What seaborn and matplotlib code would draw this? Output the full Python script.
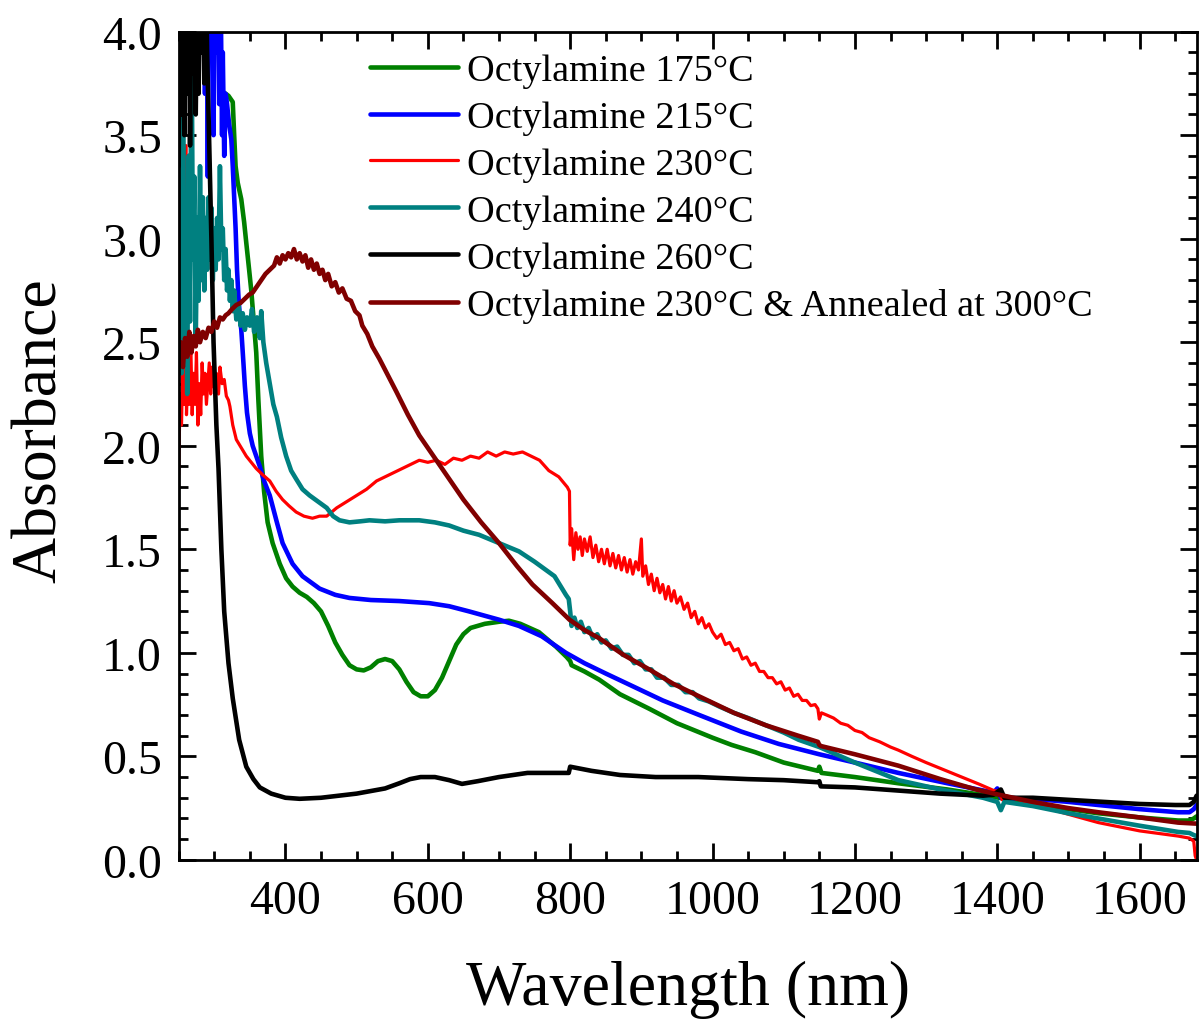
import matplotlib
matplotlib.use("Agg")
import matplotlib.pyplot as plt
from matplotlib.ticker import MultipleLocator
import seaborn as sns
import pandas as pd

# UV-Vis-NIR absorbance spectra of octylamine-synthesised samples
labels = [
    "Octylamine 175°C",
    "Octylamine 215°C",
    "Octylamine 230°C",
    "Octylamine 240°C",
    "Octylamine 260°C",
    "Octylamine 230°C & Annealed at 300°C",
]
colors = ["#008000", "#0000ff", "#ff0000", "#008080", "#000000", "#800000"]

wl_175 = [290, 305, 312, 320, 326, 328, 330, 333, 338, 342, 345, 349, 352, 356, 359, 362, 366, 370, 375, 382,
          392, 401, 410, 420, 430, 440, 450, 460, 470, 480, 490, 500, 510, 520, 530, 540, 550, 560, 570, 580,
          590, 600, 610, 620, 630, 640, 650, 660, 680, 700, 714, 730, 756, 780, 795, 800, 802, 820, 841, 870,
          911, 950, 1000, 1027, 1060, 1100, 1148, 1150, 1153, 1200, 1261, 1330, 1395, 1402, 1450, 1500, 1542,
          1600, 1654, 1670, 1676, 1680]
abs_175 = [4.3, 4.0, 3.71, 3.69, 3.66, 3.50, 3.35, 3.27, 3.19, 3.08, 2.98, 2.85, 2.75, 2.58, 2.45, 2.22, 1.95, 1.78,
           1.63, 1.53, 1.43, 1.36, 1.32, 1.29, 1.27, 1.24, 1.20, 1.13, 1.05, 0.99, 0.94, 0.92, 0.915, 0.93, 0.96,
           0.97, 0.96, 0.92, 0.86, 0.81, 0.79, 0.79, 0.82, 0.88, 0.96, 1.04, 1.09, 1.12, 1.14, 1.15, 1.155, 1.14,
           1.10, 1.03, 0.98, 0.96, 0.94, 0.91, 0.87, 0.80, 0.73, 0.66, 0.59, 0.555, 0.52, 0.47, 0.43, 0.45, 0.42,
           0.40, 0.37, 0.34, 0.305, 0.30, 0.27, 0.245, 0.225, 0.205, 0.19, 0.19, 0.20, 0.21]

wl_215 = [250, 256, 262, 268, 274, 280, 284, 287, 289, 291, 293, 295, 297, 299, 301, 303, 305, 307, 309, 311,
          312, 314, 316, 318, 321, 324, 326, 328, 330, 332, 334, 336, 338, 341, 343, 346, 350, 354, 359, 364,
          370, 378, 388, 396, 410, 424, 448, 470, 490, 520, 560, 602, 630, 658, 700, 728, 760, 794, 820, 850,
          887, 930, 981, 1040, 1093, 1150, 1200, 1261, 1330, 1395, 1400, 1405, 1450, 1500, 1542, 1600, 1654,
          1670, 1676, 1680]
abs_215 = [4.3, 3.9, 4.4, 3.8, 4.5, 4.1, 4.6, 3.7, 4.4, 3.3, 4.5, 3.9, 4.6, 3.5, 4.4, 3.9, 4.5, 3.65, 4.2, 3.5,
           3.9, 3.4, 3.7, 3.65, 3.55, 3.48, 3.35, 3.2, 3.05, 2.85, 2.72, 2.62, 2.56, 2.40, 2.29, 2.16, 2.06, 2.0,
           1.95, 1.90, 1.83, 1.76, 1.63, 1.53, 1.43, 1.37, 1.31, 1.28, 1.265, 1.255, 1.25, 1.24, 1.225, 1.20, 1.16,
           1.13, 1.08, 1.00, 0.95, 0.90, 0.84, 0.77, 0.70, 0.62, 0.56, 0.51, 0.47, 0.42, 0.37, 0.325, 0.345, 0.30,
           0.295, 0.28, 0.265, 0.245, 0.23, 0.23, 0.245, 0.265]

wl_230 = [250, 252, 254, 256, 258, 260, 261, 263, 265, 267, 269, 271, 273, 275, 277, 279, 281, 283, 285, 287,
          289, 291, 293, 295, 297, 300, 303, 306, 308, 311, 314, 317, 320, 322, 326, 331, 338, 345, 352, 359,
          368, 378, 387, 396, 405, 415, 426, 438, 448, 458, 465, 472, 486, 500, 514, 528, 546, 564, 576, 588,
          600, 612, 624, 636, 648, 660, 672, 684, 696, 708, 720, 733, 745, 757, 770, 784, 796, 799, 800, 802,
          805, 808, 811, 814, 817, 820, 824, 828, 832, 836, 840, 844, 848, 852, 856, 860, 864, 868, 872, 876,
          880, 884, 888, 892, 896, 900, 902, 906, 910, 914, 918, 922, 926, 930, 934, 938, 942, 946, 950, 955,
          960, 965, 970, 975, 980, 985, 990, 995, 1000, 1006, 1012, 1018, 1024, 1030, 1036, 1042, 1048, 1054,
          1060, 1066, 1072, 1078, 1084, 1090, 1096, 1102, 1108, 1114, 1120, 1126, 1132, 1138, 1144, 1148, 1150,
          1153, 1160, 1170, 1180, 1190, 1200, 1210, 1220, 1235, 1250, 1261, 1280, 1300, 1325, 1350, 1375, 1395,
          1402, 1407, 1412, 1450, 1500, 1542, 1600, 1654, 1670, 1676, 1678, 1680]
abs_230 = [1.86, 2.25, 2.10, 2.45, 2.20, 3.45, 2.15, 2.40, 2.20, 2.50, 2.15, 2.35, 2.20, 2.45, 2.10, 2.30, 2.15,
           2.40, 2.25, 2.35, 2.20, 2.30, 2.40, 2.25, 2.38, 2.28, 2.35, 2.25, 2.38, 2.30, 2.32, 2.24, 2.22, 2.19,
           2.10, 2.03, 1.99, 1.95, 1.92, 1.89, 1.86, 1.83, 1.78, 1.74, 1.71, 1.68, 1.66, 1.65, 1.66, 1.66, 1.68,
           1.70, 1.73, 1.76, 1.79, 1.83, 1.86, 1.89, 1.91, 1.93, 1.92, 1.93, 1.91, 1.94, 1.93, 1.95, 1.94, 1.97,
           1.95, 1.97, 1.96, 1.97, 1.95, 1.93, 1.88, 1.85, 1.80, 1.78, 1.52, 1.60, 1.45, 1.58, 1.50, 1.56, 1.47,
           1.55, 1.49, 1.56, 1.46, 1.52, 1.44, 1.50, 1.43, 1.50, 1.42, 1.48, 1.41, 1.47, 1.40, 1.46, 1.39, 1.45,
           1.38, 1.44, 1.40, 1.55, 1.37, 1.42, 1.33, 1.38, 1.30, 1.36, 1.29, 1.33, 1.26, 1.32, 1.25, 1.30, 1.24,
           1.27, 1.21, 1.24, 1.17, 1.20, 1.14, 1.17, 1.12, 1.14, 1.10, 1.07, 1.09, 1.04, 1.05, 1.01, 1.02, 0.97,
           0.98, 0.94, 0.95, 0.91, 0.91, 0.88, 0.88, 0.85, 0.86, 0.82, 0.83, 0.79, 0.80, 0.77, 0.77, 0.745, 0.75,
           0.73, 0.68, 0.71, 0.70, 0.685, 0.66, 0.65, 0.625, 0.615, 0.59, 0.57, 0.545, 0.53, 0.50, 0.47, 0.435,
           0.40, 0.365, 0.335, 0.33, 0.29, 0.31, 0.27, 0.22, 0.18, 0.14, 0.115, 0.105, 0.09, 0.02, 0.0]

wl_240 = [250, 252, 254, 256, 258, 260, 262, 264, 266, 268, 270, 272, 274, 276, 278, 280, 282, 284, 286, 288,
          290, 292, 294, 296, 298, 300, 302, 304, 306, 308, 310, 312, 314, 316, 318, 320, 322, 324, 326, 328,
          331, 334, 337, 340, 343, 346, 350, 353, 356, 360, 364, 366, 369, 373, 378, 383, 388, 394, 401, 408,
          415, 424, 434, 446, 458, 467, 476, 490, 505, 518, 540, 560, 588, 610, 630, 650, 672, 700, 728, 750,
          778, 794, 798, 800, 802, 806, 810, 815, 820, 826, 832, 838, 844, 850, 858, 866, 874, 882, 890, 898,
          906, 914, 922, 932, 942, 952, 962, 972, 981, 995, 1010, 1030, 1050, 1075, 1100, 1121, 1150, 1200,
          1261, 1320, 1380, 1400, 1405, 1410, 1450, 1500, 1542, 1600, 1654, 1670, 1676, 1680]
abs_240 = [2.70, 3.30, 2.35, 4.10, 2.50, 3.20, 2.25, 3.40, 2.60, 4.10, 2.90, 3.30, 2.50, 3.10, 2.70, 3.35, 2.80,
           3.20, 2.75, 3.10, 2.85, 3.20, 2.90, 3.15, 2.80, 3.05, 2.85, 3.10, 2.90, 3.35, 2.95, 3.05, 2.80, 2.95,
           2.75, 2.85, 2.70, 2.80, 2.65, 2.75, 2.61, 2.68, 2.58, 2.64, 2.56, 2.62, 2.58, 2.66, 2.55, 2.62, 2.52,
           2.65, 2.50, 2.40, 2.30, 2.20, 2.14, 2.04, 1.95, 1.88, 1.84, 1.79, 1.76, 1.73, 1.70, 1.66, 1.64, 1.63,
           1.635, 1.64, 1.635, 1.64, 1.64, 1.63, 1.615, 1.59, 1.57, 1.53, 1.49, 1.44, 1.37, 1.28, 1.26, 1.20,
           1.13, 1.17, 1.12, 1.15, 1.10, 1.12, 1.07, 1.09, 1.05, 1.06, 1.02, 1.03, 0.99, 0.99, 0.95, 0.96, 0.92,
           0.92, 0.88, 0.88, 0.845, 0.845, 0.81, 0.81, 0.78, 0.765, 0.74, 0.71, 0.685, 0.65, 0.615, 0.58, 0.545,
           0.47, 0.385, 0.34, 0.30, 0.28, 0.24, 0.28, 0.26, 0.225, 0.20, 0.165, 0.135, 0.13, 0.12, 0.115]

wl_260 = [250, 252, 254, 256, 258, 260, 262, 264, 266, 268, 270, 272, 274, 276, 278, 280, 282, 284, 286, 288,
          290, 292, 296, 299, 303, 306, 310, 314, 320, 326, 335, 345, 355, 364, 380, 400, 420, 450, 500, 540,
          560, 575, 590, 610, 630, 648, 670, 700, 740, 770, 798, 800, 815, 830, 870, 920, 980, 1050, 1100, 1148,
          1150, 1152, 1200, 1260, 1320, 1380, 1395, 1405, 1410, 1450, 1500, 1550, 1600, 1650, 1670, 1676, 1680]
abs_260 = [3.35, 4.30, 3.60, 4.40, 3.50, 4.20, 3.70, 4.50, 3.45, 4.30, 3.80, 4.40, 3.60, 4.20, 3.70, 4.50, 3.90,
           4.30, 3.75, 4.40, 3.90, 3.60, 3.00, 2.50, 2.10, 1.89, 1.50, 1.20, 0.95, 0.78, 0.58, 0.45, 0.39, 0.35,
           0.32, 0.30, 0.295, 0.30, 0.32, 0.345, 0.37, 0.39, 0.40, 0.40, 0.385, 0.367, 0.38, 0.40, 0.42, 0.42,
           0.42, 0.45, 0.44, 0.43, 0.41, 0.40, 0.40, 0.39, 0.385, 0.375, 0.38, 0.355, 0.35, 0.335, 0.32, 0.31,
           0.315, 0.34, 0.30, 0.30, 0.29, 0.28, 0.27, 0.265, 0.265, 0.28, 0.31]

wl_ann = [250, 253, 256, 259, 262, 265, 268, 271, 274, 277, 280, 284, 288, 292, 296, 300, 304, 308, 312, 316,
          320, 325, 331, 337, 343, 349, 354, 360, 366, 372, 378, 384, 388, 392, 396, 400, 404, 408, 412, 416,
          420, 424, 428, 432, 436, 440, 444, 448, 452, 456, 460, 465, 470, 475, 480, 486, 492, 498, 504, 508,
          515, 522, 532, 544, 556, 572, 588, 610, 630, 650, 675, 700, 725, 747, 775, 799, 820, 841, 875, 911,
          945, 981, 1030, 1075, 1120, 1148, 1150, 1152, 1200, 1261, 1320, 1370, 1402, 1450, 1500, 1542, 1600,
          1654, 1680]
abs_ann = [2.42, 2.50, 2.38, 2.52, 2.43, 2.55, 2.45, 2.53, 2.48, 2.56, 2.50, 2.55, 2.52, 2.57, 2.55, 2.60, 2.57,
           2.62, 2.61, 2.63, 2.64, 2.66, 2.68, 2.69, 2.71, 2.73, 2.74, 2.77, 2.80, 2.83, 2.85, 2.87, 2.91, 2.88,
           2.92, 2.90, 2.93, 2.91, 2.95, 2.90, 2.93, 2.89, 2.92, 2.86, 2.90, 2.85, 2.88, 2.83, 2.85, 2.80, 2.83,
           2.77, 2.79, 2.74, 2.76, 2.71, 2.70, 2.65, 2.63, 2.58, 2.54, 2.48, 2.42, 2.34, 2.26, 2.15, 2.05, 1.94,
           1.84, 1.74, 1.63, 1.53, 1.42, 1.33, 1.24, 1.16, 1.11, 1.07, 0.99, 0.92, 0.85, 0.79, 0.71, 0.65, 0.60,
           0.57, 0.555, 0.55, 0.51, 0.455, 0.39, 0.34, 0.315, 0.28, 0.25, 0.23, 0.205, 0.18, 0.175]

series = [(wl_175, abs_175), (wl_215, abs_215), (wl_230, abs_230),
          (wl_240, abs_240), (wl_260, abs_260), (wl_ann, abs_ann)]
widths = [3.3, 3.3, 2.3, 3.3, 3.3, 3.3]

sns.set_style("ticks")
plt.rcParams["font.family"] = ["Liberation Serif", "DejaVu Serif"]
for key in ("text.color", "axes.labelcolor", "xtick.color", "ytick.color", "axes.edgecolor"):
    plt.rcParams[key] = "black"

fig = plt.figure(figsize=(11.99, 10.20), dpi=100)
ax = fig.add_axes([0.149, 0.156, 0.849, 0.812])

for (wl, ab), lab, col, lw in zip(series, labels, colors, widths):
    df = pd.DataFrame({"Wavelength": wl, "Absorbance": ab})
    sns.lineplot(data=df, x="Wavelength", y="Absorbance", color=col, lw=lw,
                 label=lab, sort=False, estimator=None, ax=ax)

ax.set_xlim(250, 1680)
ax.set_ylim(0, 4.0)
ax.xaxis.set_major_locator(MultipleLocator(200))
ax.xaxis.set_minor_locator(MultipleLocator(50))
ax.yaxis.set_major_locator(MultipleLocator(0.5))
ax.yaxis.set_minor_locator(MultipleLocator(0.1))
ax.yaxis.set_major_formatter(plt.FormatStrFormatter("%.1f"))

ax.tick_params(which="both", direction="in", top=True, right=True, width=2.0, colors="black")
ax.tick_params(which="major", length=12, labelsize=34.5)
ax.tick_params(axis="x", which="major", pad=14)
ax.tick_params(axis="y", which="major", pad=12)
ax.tick_params(which="minor", length=6.5)
for sp in ax.spines.values():
    sp.set_linewidth(2.0)
    sp.set_color("black")

ax.set_xlabel("Wavelength (nm)", fontsize=46, labelpad=26)
ax.set_ylabel("Absorbance", fontsize=46)
ax.yaxis.set_label_coords(-0.107, 0.52)

ax.legend(loc="upper left", bbox_to_anchor=(0.188, 0.974), frameon=False,
          fontsize=27.5, handlelength=2.3, handletextpad=0.25, labelspacing=0.32,
          borderpad=0, borderaxespad=0)

fig.savefig("out.png", dpi=100)
